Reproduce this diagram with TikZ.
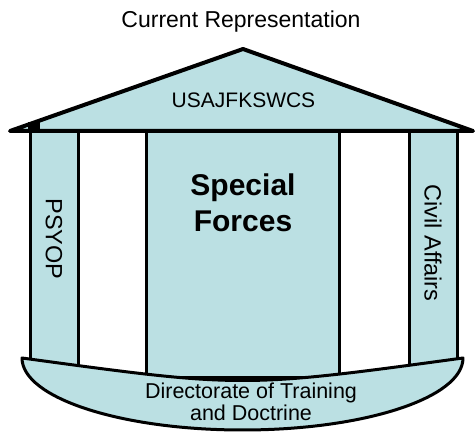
\documentclass[tikz,border=0pt]{standalone}
\usepackage{fontspec}
\setmainfont{Liberation Sans}
\definecolor{pillarblue}{HTML}{BBE0E3}
\tikzset{
  pillar/.style={fill=pillarblue,draw=black,line width=3pt},
  roofline/.style={fill=pillarblue,draw=black,line width=4pt,line join=round},
  sidelabel/.style={rotate=-90,font=\fontsize{23.5}{28}\selectfont,inner sep=0pt},
}

\begin{document}
\begin{tikzpicture}[x=1pt,y=-1pt]
\useasboundingbox (0,0) rectangle (475,433);

\node[font=\fontsize{23}{28}\selectfont,anchor=base,inner sep=0pt] (title) at(241,28){Current Representation};

% columns
\filldraw[pillar] (30,130) rectangle (78,368);
\filldraw[pillar] (146.5,130) rectangle (339,378);
\filldraw[pillar] (409,130) rectangle (457,368);

% base
\filldraw[pillar,line join=round] (22,358) .. controls (242.5,388) .. (463,358)
  .. controls (463,397.8) and (364.3,430) .. (242.5,430)
  .. controls (120.7,430) and (22,397.8) .. (22,358) -- cycle;

% roof
\filldraw[roofline] (10,131) -- (243,49) -- (473,131) -- cycle;
\fill (28,122) rectangle (40,131);

\node[font=\fontsize{21}{25}\selectfont,anchor=base,inner sep=0pt] (school) at(243.5,108){USAJFKSWCS};
\node[font=\bfseries\fontsize{30}{36}\selectfont,align=center,inner sep=0pt] (sf) at(243,203){Special\\Forces};
\node[sidelabel] (psyop) at(54,239){PSYOP};
\node[sidelabel] (ca) at(433,243){Civil Affairs};
\node[font=\fontsize{21.5}{22}\selectfont,align=center,inner sep=0pt] (dotd) at(251,402){Directorate of Training\\and Doctrine};

\end{tikzpicture}
\end{document}
